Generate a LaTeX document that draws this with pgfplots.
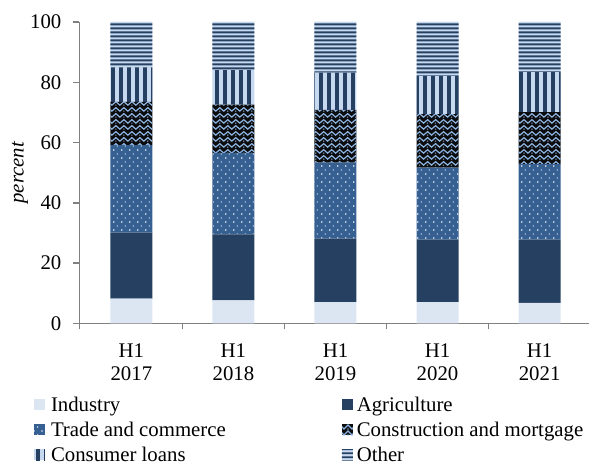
\documentclass[border=0pt]{standalone}
\usepackage{fontspec}
\setmainfont{Liberation Serif}
\usepackage{pgfplots}
\pgfplotsset{compat=1.18}
\usetikzlibrary{patterns.meta}

\definecolor{cInd}{RGB}{220,230,242}
\definecolor{cAgr}{RGB}{37,64,97}
\definecolor{cTra}{RGB}{55,96,146}
\definecolor{cConBg}{RGB}{12,12,12}
\definecolor{cConFg}{RGB}{141,180,227}
\definecolor{cLight}{RGB}{198,217,241}
\definecolor{cNavy}{RGB}{37,64,97}
\definecolor{cAxis}{RGB}{128,128,128}

\tikzdeclarepattern{
  name=hlinesP, type=uncolored,
  bottom left={(0pt,0pt)}, top right={(240pt,2pt)}, tile size={(240pt,2pt)},
  code={\pgfpathrectangle{\pgfpoint{0pt}{0.45pt}}{\pgfpoint{240pt}{1.1pt}}\pgfusepath{fill}}
}
\tikzdeclarepattern{
  name=vstripesP, type=uncolored,
  bottom left={(0pt,0pt)}, top right={(4.2pt,240pt)}, tile size={(4.2pt,240pt)},
  code={\pgfpathrectangle{\pgfpoint{1.1pt}{0pt}}{\pgfpoint{2pt}{240pt}}\pgfusepath{fill}}
}
\tikzdeclarepattern{
  name=dotsP, type=uncolored,
  bottom left={(0pt,0pt)}, top right={(4pt,4.2pt)}, tile size={(4pt,4.2pt)},
  code={\pgfpathrectangle{\pgfpoint{0.7pt}{0.7pt}}{\pgfpoint{0.7pt}{0.7pt}}
        \pgfpathrectangle{\pgfpoint{2.7pt}{2.8pt}}{\pgfpoint{0.5pt}{0.7pt}}\pgfusepath{fill}}
}
\tikzdeclarepattern{
  name=zigP, type=uncolored,
  bottom left={(0pt,0pt)}, top right={(240pt,3pt)}, tile size={(240pt,3pt)},
  code={\pgfsetlinewidth{0.65pt}
        \pgfpathmoveto{\pgfpoint{0pt}{0.5pt}}
        \foreach \k in {0,...,59}{\pgfpathlineto{\pgfpoint{4*\k pt+2pt}{2.5pt}}\pgfpathlineto{\pgfpoint{4*\k pt+4pt}{0.5pt}}}
        \pgfusepath{stroke}
        \foreach \k in {0,...,59}{\pgfpathrectangle{\pgfpoint{4*\k pt+1.7pt}{0.25pt}}{\pgfpoint{0.6pt}{0.6pt}}}
        \pgfusepath{fill}}
}

\pgfplotsset{
  sqlegend/.style={legend image code/.code={\fill[##1] (0pt,-2pt) rectangle (5.5pt,3.5pt);}}
}

\begin{document}
\fontsize{10.4}{11.35}\selectfont
\begin{tikzpicture}
\begin{axis}[
  scale only axis,
  width=254.65pt, height=150.65pt,
  at={(0pt,0pt)}, anchor=south west,
  ybar stacked, bar width=21pt,
  xmin=-0.51, xmax=4.48,
  ymin=0, ymax=100,
  axis x line*=bottom, axis y line*=left,
  axis line style={-, draw=cAxis, line width=0.75pt},
  tick style={draw=cAxis, line width=0.75pt},
  tick align=outside,
  major tick length=0pt, minor tick length=3pt,
  xtick={0,1,2,3,4},
  xticklabels={{H1\\2017},{H1\\2018},{H1\\2019},{H1\\2020},{H1\\2021}},
  xticklabel style={align=center, yshift=-6.5pt},
  minor xtick={-0.51,0.5,1.5,2.5,3.5},
  ytick={0,20,40,60,80,100},
  minor ytick={0,20,40,60,80,100},
  yticklabel style={xshift=-5.3pt},
  /pgf/number format/assume math mode=true,
  ylabel={\itshape percent},
  ylabel style={at={(axis description cs:-0.1164,0.5)}, anchor=center},
  legend columns=2,
  legend cell align=left,
  legend style={draw=none, fill=none, inner sep=0pt, outer sep=0pt,
    at={(-0.08895,-0.2413)}, anchor=north west,
    nodes={inner sep=0pt, text height=7.5pt, text depth=2.5pt},
    row sep=2.5pt, column sep=0pt,
    /tikz/column 1/.style={column sep=3pt},
    /tikz/column 2/.style={column sep=58pt},
    /tikz/column 3/.style={column sep=2pt}},
]
\addplot[draw=none, fill=cInd, sqlegend] coordinates {(0,8.2) (1,7.6) (2,7.0) (3,7.0) (4,6.8)};
\addplot[draw=none, fill=cAgr, sqlegend] coordinates {(0,21.9) (1,21.9) (2,21.1) (3,20.8) (4,21.0)};
\addplot[draw=none, fill=cTra, postaction={pattern=dotsP, pattern color=white}, sqlegend] coordinates {(0,29.0) (1,27.1) (2,25.2) (3,23.9) (4,25.0)};
\addplot[draw=none, fill=cConBg, postaction={pattern=zigP, pattern color=cConFg}, sqlegend] coordinates {(0,14.4) (1,16.0) (2,17.5) (3,17.7) (4,17.3)};
\addplot[draw=none, fill=cLight, postaction={pattern=vstripesP, pattern color=cNavy}, sqlegend] coordinates {(0,11.4) (1,11.4) (2,12.4) (3,12.7) (4,13.3)};
\addplot[draw=none, fill=cLight, postaction={pattern=hlinesP, pattern color=cNavy}, sqlegend] coordinates {(0,15.1) (1,16.0) (2,16.8) (3,17.9) (4,16.6)};
\legend{Industry, Agriculture, Trade and commerce, Construction and mortgage, Consumer loans, Other}
\end{axis}
\pgfresetboundingbox
\path[use as bounding box] (-39.65pt,-71.35pt) rectangle (254.85pt,161.65pt);
\end{tikzpicture}
\end{document}
